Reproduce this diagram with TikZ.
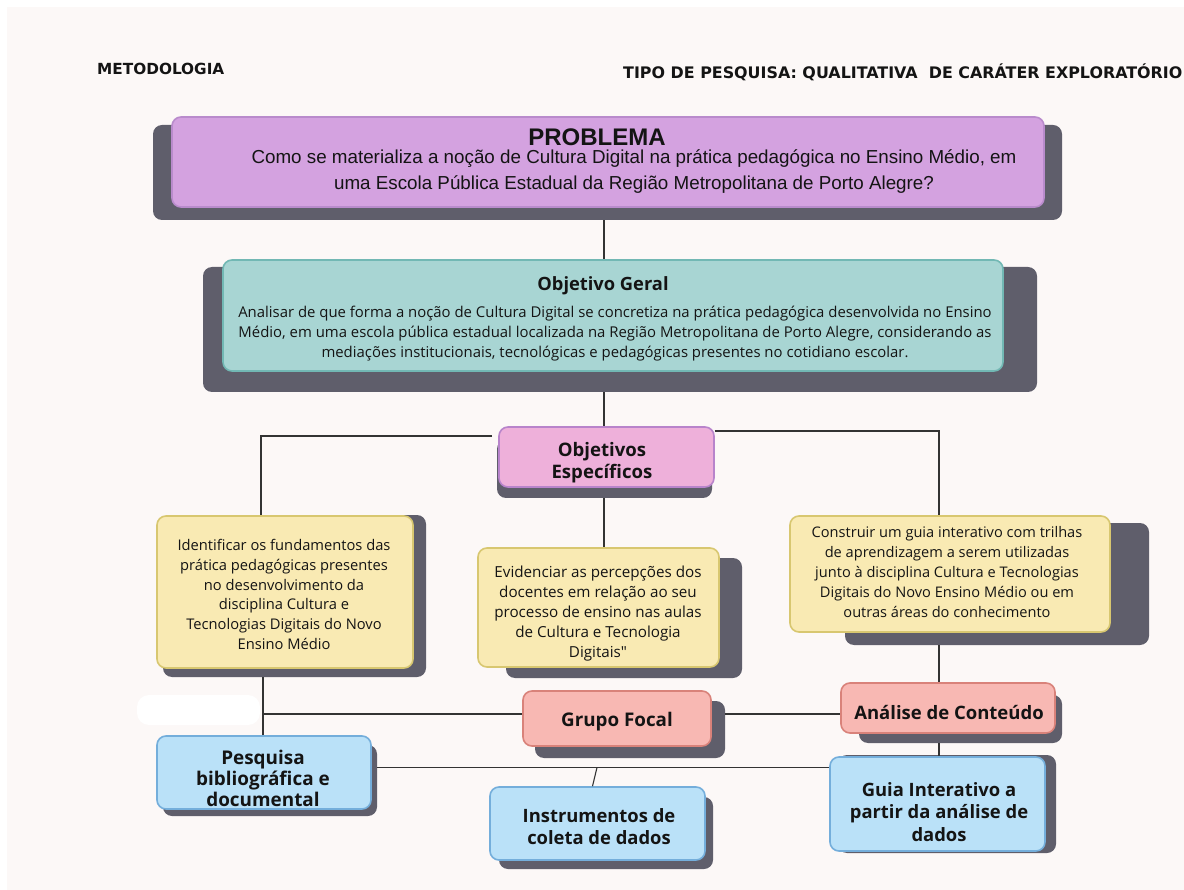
\documentclass[tikz,border=0pt]{standalone}
\usepackage{fontspec}
\setmainfont{Open Sans}
\newfontfamily\nomapf[Ligatures=TeXOff]{Open Sans}
\newfontfamily\arialf{Liberation Sans}
\newfontfamily\headf{DejaVu Sans}
\definecolor{bgc}{HTML}{FCF8F7}
\definecolor{shc}{HTML}{5F5E6B}
\definecolor{purf}{HTML}{D4A2E0}
\definecolor{purd}{HTML}{B98BCC}
\definecolor{tealf}{HTML}{A8D5D3}
\definecolor{teald}{HTML}{72B8B4}
\definecolor{pinkf}{HTML}{EEB0DA}
\definecolor{pinkd}{HTML}{B884CB}
\definecolor{yelf}{HTML}{F9EAB3}
\definecolor{yeld}{HTML}{D8C770}
\definecolor{redf}{HTML}{F8B8B3}
\definecolor{redd}{HTML}{D9827A}
\definecolor{bluf}{HTML}{BAE1F8}
\definecolor{blud}{HTML}{74AEDB}
\definecolor{linec}{HTML}{333333}
\definecolor{txt}{HTML}{141414}
\tikzset{
  shbox/.style={fill=shc, rounded corners=9pt, inner sep=0pt},
  cbox/.style={rounded corners=9pt, line width=1.6pt, inner sep=0pt},
  probbox/.style={cbox, fill=purf, draw=purd},
  tealbox/.style={cbox, fill=tealf, draw=teald},
  pinkbox/.style={cbox, fill=pinkf, draw=pinkd},
  yelbox/.style={cbox, fill=yelf, draw=yeld},
  redbox/.style={cbox, fill=redf, draw=redd},
  blubox/.style={cbox, fill=bluf, draw=blud},
  conn/.style={draw=linec, line width=1.1pt},
  tx/.style={text=txt, align=center, inner sep=0pt},
}
\begin{document}
\begin{tikzpicture}[x=1pt,y=-1pt]
\useasboundingbox (0,0) rectangle (1184,890);
\fill[white] (0,0) rectangle (1184,890);
\fill[bgc] (7,7) rectangle (1184,890);

% headers
\node[tx, anchor=west, font=\headf\bfseries\fontsize{15.3}{17}\selectfont] (metod) at (97,69) {METODOLOGIA};
\node[tx, anchor=west, font=\headf\bfseries\fontsize{15.9}{17}\selectfont] (tipo) at (623,72) {TIPO DE PESQUISA: QUALITATIVA\ \ DE CAR\'ATER EXPLORAT\'ORIO};

% shadows
\node[shbox, minimum width=909pt, minimum height=95pt] (probS) at (607.5,172.5) {};
\node[shbox, minimum width=834pt, minimum height=125pt] (geralS) at (620,329.5) {};
\node[shbox, minimum width=215pt, minimum height=58pt] (espS) at (604.5,469) {};
\node[shbox, minimum width=263pt, minimum height=162pt] (leftYS) at (294.5,596) {};
\node[shbox, minimum width=236pt, minimum height=120pt] (midYS) at (624,618) {};
\node[shbox, minimum width=304pt, minimum height=122pt] (rightYS) at (997,584) {};
\node[shbox, minimum width=190pt, minimum height=57pt] (gfS) at (630,729.5) {};
\node[shbox, minimum width=203pt, minimum height=48pt] (acS) at (960.5,719) {};
\node[shbox, minimum width=218pt, minimum height=98pt] (guiaS) at (947,804) {};
\node[shbox, minimum width=214pt, minimum height=71pt] (pesqS) at (270,780.5) {};
\node[shbox, minimum width=214pt, minimum height=72pt] (instrS) at (606,833) {};

% boxes
\node[probbox, minimum width=872pt, minimum height=90pt] (prob) at (608,162) {};
\node[tealbox, minimum width=780pt, minimum height=111pt] (geral) at (613,315.5) {};
\node[pinkbox, minimum width=215pt, minimum height=60pt] (esp) at (606.5,457) {};
\node[yelbox, minimum width=256pt, minimum height=152pt] (leftY) at (285,592) {};
\node[yelbox, minimum width=241pt, minimum height=119pt] (midY) at (598.5,607.5) {};
\node[yelbox, minimum width=320pt, minimum height=116pt] (rightY) at (950,574) {};
\node[redbox, minimum width=188pt, minimum height=55pt] (gf) at (617,718.5) {};
\node[redbox, minimum width=214pt, minimum height=50pt] (ac) at (948,708) {};
\node[blubox, minimum width=215pt, minimum height=94pt] (guia) at (937.5,804) {};
\node[blubox, minimum width=214pt, minimum height=73pt] (pesq) at (264,772.5) {};
\node[blubox, minimum width=215pt, minimum height=73pt] (instr) at (597.5,823.5) {};
\node[fill=white, rounded corners=12pt, minimum width=123pt, minimum height=30pt, inner sep=0pt] (blob) at (198.5,710) {};

% connectors
\coordinate (spine) at (604,0);
\coordinate (lTurn) at (261,436);
\coordinate (rTurn) at (939,431);
\coordinate (lx) at (263,0);
\coordinate (rx) at (939,0);
\coordinate (gfy) at (0,714);
\coordinate (by) at (0,767.5);
\coordinate (ij) at (597,767.5);
\draw[conn] (probS.south -| spine) -- (geral.north -| spine);
\draw[conn] (geralS.south -| spine) -- (esp.north -| spine);
\draw[conn] ([xshift=-6pt]esp.west |- lTurn) -- (lTurn) -- (leftY.north -| lTurn);
\draw[conn] (esp.east |- rTurn) -- (rTurn) -- (rightY.north -| rTurn);
\draw[conn] (espS.south -| spine) -- (midY.north -| spine);
\draw[conn] (leftYS.south -| lx) -- (pesq.north -| lx);
\draw[conn] (lx |- gfy) -- (gf.west |- gfy);
\draw[conn] (gfS.east |- gfy) -- (ac.west |- gfy);
\draw[conn] (rightYS.south -| rx) -- (ac.north -| rx);
\draw[conn] (acS.south -| rx) -- (guia.north -| rx);
\draw[conn] (pesqS.east |- by) -- (guia.west |- by);
\draw[conn] (ij) -- ([xshift=-5pt]instr.north);

% texts
\node[tx, font=\arialf\bfseries\fontsize{24}{26}\selectfont] (probT) at (597,137) {PROBLEMA};
\node[tx, font=\arialf\fontsize{18.8}{26}\selectfont] (probQ) at (634,172) {Como se materializa a no\c{c}\~ao de Cultura Digital na pr\'atica pedag\'ogica no Ensino M\'edio, em\\uma Escola P\'ublica Estadual da Regi\~ao Metropolitana de Porto Alegre?};
\node[tx, font=\bfseries\fontsize{18.3}{20}\selectfont] (geralT) at (603,286) {Objetivo Geral};
\node[tx, font=\fontsize{14.9}{19.8}\selectfont] (geralQ) at (615,333.5) {Analisar de que forma a no\c{c}\~ao de Cultura Digital se concretiza na pr\'atica pedag\'ogica desenvolvida no Ensino\\M\'edio, em uma escola p\'ublica estadual localizada na Regi\~ao Metropolitana de Porto Alegre, considerando as\\media\c{c}\~oes institucionais, tecnol\'ogicas e pedag\'ogicas presentes no cotidiano escolar.};
\node[tx, font=\bfseries\fontsize{18.6}{22}\selectfont] (espT) at (602,463) {Objetivos\\Espec\'ificos};
\node[tx, font=\fontsize{14.7}{19.8}\selectfont] (leftYT) at (284,594.5) {Identificar os fundamentos das\\pr\'atica pedag\'ogicas presentes\\no desenvolvimento da\\disciplina Cultura e\\Tecnologias Digitais do Novo\\Ensino M\'edio};
\node[tx, font=\fontsize{15.2}{19.8}\selectfont] (midYT) at (598,613.5) {Evidenciar as percep\c{c}\~oes dos\\docentes em rela\c{c}\~ao ao seu\\processo de ensino nas aulas\\de Cultura e Tecnologia\\Digitais{\nomapf"}};
\node[tx, font=\fontsize{14.6}{19.8}\selectfont] (rightYT) at (947,572) {Construir um guia interativo com trilhas\\de aprendizagem a serem utilizadas\\junto \`a disciplina Cultura e Tecnologias\\Digitais do Novo Ensino M\'edio ou em\\outras \'areas do conhecimento};
\node[tx, font=\bfseries\fontsize{18.8}{20}\selectfont] (gfT) at (617,722) {Grupo Focal};
\node[tx, font=\bfseries\fontsize{18.5}{20}\selectfont] (acT) at (949,713) {An\'alise de Conte\'udo};
\node[tx, font=\bfseries\fontsize{18.4}{22.5}\selectfont] (guiaT) at (939,812) {Guia Interativo a\\partir da an\'alise de\\dados};
\node[tx, font=\bfseries\fontsize{18.9}{21}\selectfont] (pesqT) at (263,778) {Pesquisa\\bibliogr\'afica e\\documental};
\node[tx, font=\bfseries\fontsize{18.4}{22}\selectfont] (instrT) at (599,827) {Instrumentos de\\coleta de dados};
\end{tikzpicture}
\end{document}
